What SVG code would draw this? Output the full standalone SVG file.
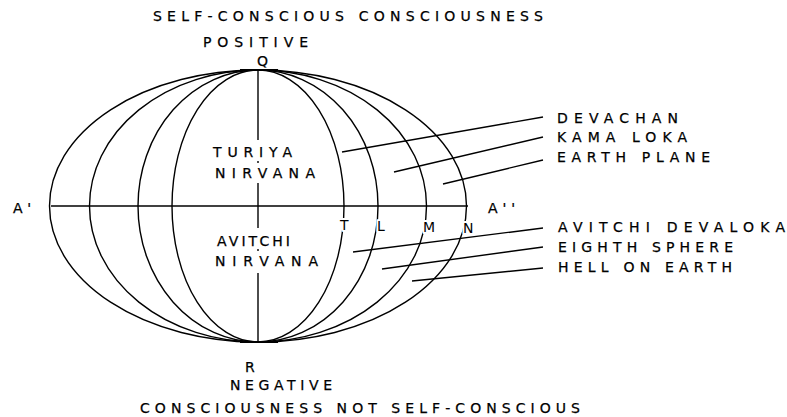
<svg xmlns="http://www.w3.org/2000/svg" width="787" height="417" viewBox="0 0 787 417">
<style>
text{font-family:"DejaVu Sans","Liberation Sans",sans-serif;font-size:14px;fill:#000;stroke:#000;stroke-width:0.25}
.ln{stroke:#000;stroke-width:1.4;fill:none}
text.gap{stroke:#fff;stroke-width:4;paint-order:stroke;stroke-linejoin:round}
</style>
<rect width="787" height="417" fill="#fff"/>
<g id="globe" class="ln">
<ellipse cx="258" cy="206" rx="208.5" ry="136"/>
<ellipse cx="258" cy="206" rx="168.5" ry="136"/>
<ellipse cx="258" cy="206" rx="120" ry="136"/>
<ellipse cx="258" cy="206" rx="86" ry="136"/>
<line x1="240" y1="70" x2="278" y2="70" stroke-width="2"/>
<line x1="240" y1="342" x2="278" y2="342" stroke-width="2"/>
<line x1="51" y1="206" x2="468" y2="206"/>
<line x1="258" y1="70" x2="258" y2="140"/>
<line x1="258" y1="161" x2="258" y2="163"/>
<line x1="258" y1="183" x2="258" y2="228"/>
<line x1="258" y1="249" x2="258" y2="251"/>
<line x1="258" y1="273" x2="258" y2="342"/>
</g>
<g id="connectors" class="ln">
<line x1="543" y1="117" x2="342" y2="152"/>
<line x1="543" y1="137" x2="394" y2="172"/>
<line x1="543" y1="160" x2="443" y2="184"/>
<line x1="543" y1="228" x2="353" y2="252"/>
<line x1="543" y1="247" x2="382" y2="269"/>
<line x1="543" y1="268" x2="412" y2="281"/>
</g>
<g id="top-labels">
<text x="153" y="21" textLength="390" lengthAdjust="spacing">SELF-CONSCIOUS CONSCIOUSNESS</text>
<text x="203" y="47" textLength="105" lengthAdjust="spacing">POSITIVE</text>
<text x="257" y="66">Q</text>
</g>
<g id="center-labels">
<text x="213" y="157" textLength="79" lengthAdjust="spacing">TURIYA</text>
<text x="215" y="178" textLength="100" lengthAdjust="spacing">NIRVANA</text>
<text x="217" y="246" textLength="73" lengthAdjust="spacing">AVITCHI</text>
<text x="215" y="266" textLength="103" lengthAdjust="spacing">NIRVANA</text>
</g>
<g id="axis-labels">
<text x="13" y="213" textLength="18" lengthAdjust="spacing">A'</text>
<text x="488" y="213" textLength="27" lengthAdjust="spacing">A''</text>
<text class="gap" x="340" y="230">T</text>
<text class="gap" x="377" y="231">L</text>
<text class="gap" x="423" y="232">M</text>
<text class="gap" x="463" y="233">N</text>
</g>
<g id="upper-planes">
<text x="557" y="123" textLength="121" lengthAdjust="spacing">DEVACHAN</text>
<text x="557" y="142" textLength="130" lengthAdjust="spacing">KAMA LOKA</text>
<text x="557" y="162" textLength="153" lengthAdjust="spacing">EARTH PLANE</text>
</g>
<g id="lower-planes">
<text x="558" y="232" textLength="227" lengthAdjust="spacing">AVITCHI DEVALOKA</text>
<text x="558" y="252" textLength="175" lengthAdjust="spacing">EIGHTH SPHERE</text>
<text x="558" y="272" textLength="174" lengthAdjust="spacing">HELL ON EARTH</text>
</g>
<g id="bottom-labels">
<text x="245" y="372">R</text>
<text x="230" y="390" textLength="102" lengthAdjust="spacing">NEGATIVE</text>
<text x="140" y="413" textLength="440" lengthAdjust="spacing">CONSCIOUSNESS NOT SELF-CONSCIOUS</text>
</g>
</svg>
